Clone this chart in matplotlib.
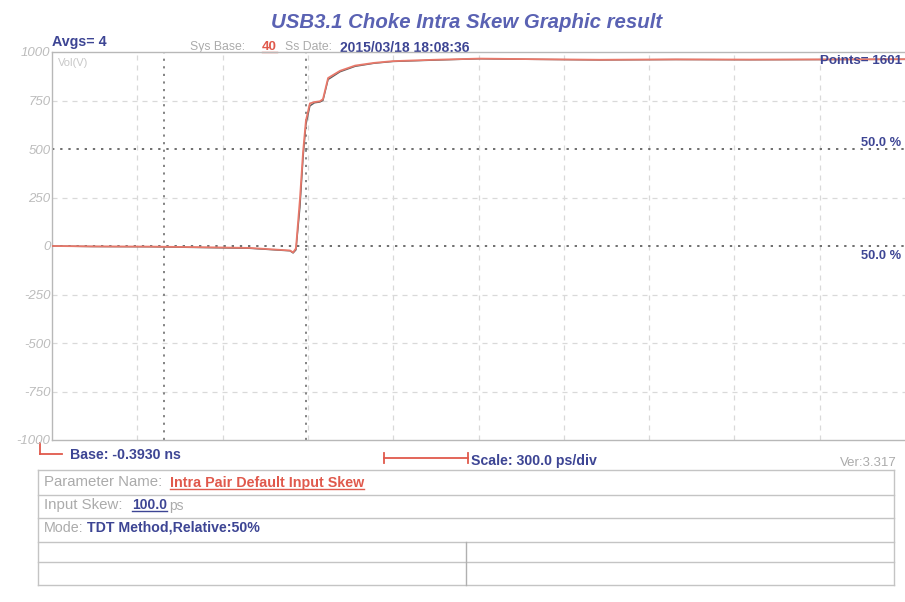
import numpy as np
import matplotlib.pyplot as plt
from matplotlib.lines import Line2D

plt.rcParams['font.family'] = ['Liberation Sans', 'DejaVu Sans']

# waveform (time in ps, amplitude in mV)
t_ps = [-393, -250, -48, 128, 303, 444, 455, 465, 479, 490, 500, 514, 530, 549,
        560, 578, 620, 673, 740, 806, 950, 1112, 1300, 1534, 1800, 2062, 2350, 2607]
red_mv = [0, -2, -3, -6, -10, -23, -33, -12, 242, 485, 646, 735, 742, 746,
          757, 866, 903, 930, 944, 953, 960, 966, 963, 960, 962, 961, 962, 963]
gray_mv = [0, -3, -4, -8, -12, -25, -36, -20, 200, 455, 625, 722, 738, 742,
           750, 858, 898, 926, 942, 951, 958, 965, 962, 959, 961, 960, 961, 962]

base_ps = -393
div_ps = 300
n_div = 10
y_ticks = [1000, 750, 500, 250, 0, -250, -500, -750, -1000]
y_labels = ['1000', '750', '500', '250', '0', '-250', '-500', '-750', '-1000']
ref_levels = [500, 0]       # 50 % reference lines
cursor_ps = [0, 500]

BLUE = '#3d4594'
TITLE = '#5a62b3'
GRAY = '#ababab'
RED = '#e0594c'

W, H = 905, 602
fig = plt.figure(figsize=(W / 100, H / 100), dpi=100)

# background axes in pixel coordinates for the annotations and table
bg = fig.add_axes([0, 0, 1, 1])
bg.set_xlim(0, W)
bg.set_ylim(H, 0)
bg.axis('off')

ax = fig.add_axes([52 / W, 1 - 440 / H, (W - 52) / W, 388 / H])
ax.patch.set_alpha(0)
ax.set_xlim(base_ps, base_ps + n_div * div_ps)
ax.set_ylim(-1000, 1000)
for s in ['left', 'top', 'bottom']:
    ax.spines[s].set_color('#b8b8b8')
    ax.spines[s].set_linewidth(1.0)
ax.spines['right'].set_visible(False)
ax.set_xticks([])
ax.set_yticks(y_ticks)
ax.set_yticklabels(y_labels, color='#bcbcbc', fontsize=9.5, style='italic')
ax.tick_params(axis='y', length=0, pad=1)

for k in range(1, n_div):
    ax.axvline(base_ps + k * div_ps, color='#d9d9d9', lw=0.9, ls=(0, (4, 4)), zorder=1)
for v in y_ticks[1:-1]:
    if v not in ref_levels:
        ax.axhline(v, color='#d9d9d9', lw=0.9, ls=(0, (4, 4)), zorder=1)
for v in ref_levels:
    ax.axhline(v, color='#6e6e6e', lw=1.4, ls=(0, (1.2, 3)), zorder=2)
for c in cursor_ps:
    ax.axvline(c, color='#7a7a7a', lw=1.3, ls=(0, (1.2, 3)), zorder=2)

ax.plot(t_ps, gray_mv, color='#5c5c5c', lw=1.0, zorder=3)
ax.plot(t_ps, red_mv, color='#e8786a', lw=1.3, zorder=4)

ax.text(0.007, 0.985, 'Vol(V)', transform=ax.transAxes, color='#c8c8c8',
        fontsize=8, va='top')
ax.text(0.995, 500, '50.0 %', transform=ax.get_yaxis_transform(), ha='right',
        va='bottom', color=BLUE, fontsize=9.3, weight='bold')
ax.text(0.995, -20, '50.0 %', transform=ax.get_yaxis_transform(), ha='right',
        va='top', color=BLUE, fontsize=9.3, weight='bold')
ax.text(0.997, 0.977, 'Points= 1601', transform=ax.transAxes, ha='right',
        va='center', color=BLUE, fontsize=9.6, weight='bold', zorder=5)

underlined = []


def put(x, y, s, color, size=10, weight='bold', style='normal', ul=False, ha='left'):
    t = bg.text(x, y, s, color=color, fontsize=size, weight=weight, style=style,
                ha=ha, va='center')
    if ul:
        underlined.append(t)
    return t


bg.text(467, 22, 'USB3.1 Choke Intra Skew Graphic result', color=TITLE,
        fontsize=14.7, weight='bold', style='italic', ha='center', va='center')

put(52, 42, 'Avgs= 4', BLUE, 10.3)
put(190, 47, 'Sys Base:', GRAY, 8.8, weight='normal')
put(262, 47, '40', RED, 9.5, ul=True)
put(285, 47, 'Ss Date:', GRAY, 8.8, weight='normal')
put(340, 48, '2015/03/18 18:08:36', BLUE, 10)

# base marker
bg.plot([40, 40], [443, 454], color=RED, lw=1.3)
bg.plot([40, 62], [454, 454], color=RED, lw=1.3)
put(70, 455, 'Base: -0.3930 ns', BLUE, 10.2)

# scale bar
bg.plot([384, 468], [458, 458], color=RED, lw=1.3)
bg.plot([384, 384], [453, 463], color=RED, lw=1.3)
bg.plot([468, 468], [453, 463], color=RED, lw=1.3)
put(471, 461, 'Scale: 300.0 ps/div', BLUE, 10.2)
put(897, 463, 'Ver:3.317', GRAY, 9.5, weight='normal', ha='right')

# table
rows = [470, 495, 518, 542, 562, 585]
tbl_l, tbl_r = 38, 894
for y in rows:
    bg.plot([tbl_l, tbl_r], [y, y], color='#c4c4c4', lw=1.0)
bg.plot([tbl_l, tbl_l], [rows[0], rows[-1]], color='#c4c4c4', lw=1.0)
bg.plot([tbl_r, tbl_r], [rows[0], rows[-1]], color='#c4c4c4', lw=1.0)
bg.plot([466, 466], [rows[3], rows[-1]], color='#b0b0b0', lw=1.0)

put(44, 482, 'Parameter Name:', GRAY, 10.8, weight='normal')
put(170, 483, 'Intra Pair Default Input Skew', RED, 10.3, ul=True)
put(44, 505, 'Input Skew:', GRAY, 10.8, weight='normal')
put(132, 505, '100.0', BLUE, 10, ul=True)
put(169, 506, 'ps', GRAY, 10, weight='normal')
put(44, 528, 'Mode:', GRAY, 10.3, weight='normal')
put(87, 528, 'TDT Method,Relative:50%', BLUE, 10.2)

fig.canvas.draw()
r = fig.canvas.get_renderer()
inv = bg.transData.inverted()
for t in underlined:
    bb = t.get_window_extent(r)
    (x0, y0), (x1, y1) = inv.transform([(bb.x0, bb.y0), (bb.x1, bb.y0)])
    bg.plot([x0, x1], [y0 - 1, y1 - 1], color=t.get_color(), lw=1.0)

fig.savefig('out.png', dpi=100)
